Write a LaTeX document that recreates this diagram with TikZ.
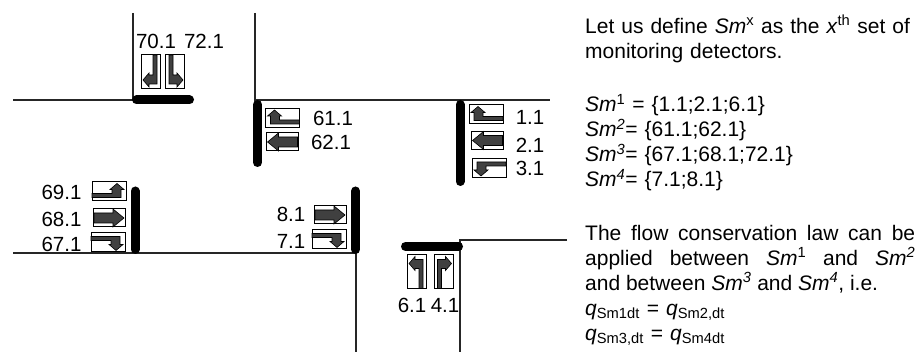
\documentclass[tikz,border=0pt]{standalone}
\usepackage{fontspec}
\setmainfont{Liberation Sans}
\tikzset{
  road/.style={draw=black!85,line width=1.2pt},
  stopbar/.style={line width=9pt,line cap=round},
  numlabel/.style={inner sep=0pt,font=\fontsize{20.5}{24}\selectfont},
  textblock/.style={anchor=north west,inner sep=0pt,text width=330pt,font=\fontsize{21}{25}\selectfont},
  detbox/.style={draw,line width=1pt,fill=white},
  detfill/.style={draw,line width=0.6pt,fill=black!75},
  pics/detstraight/.style={code={
    \draw[detbox] (-16,-9) rectangle (16,9);
    \draw[detfill] (-15,-5) -- (4,-5) -- (4,-9) -- (15,0) -- (4,9) -- (4,5) -- (-15,5) -- cycle;
  }},
  pics/detturn/.style={code={
    \draw[detbox] (-17,-9.5) rectangle (17,9.5);
    \draw[detfill] (-17,2) -- (3,2) -- (3,-2) -- (1,-2) -- (8,-8) -- (15,-2) -- (12,-2) -- (12,6) -- (-17,6) -- cycle;
  }}
}
\begin{document}
\begin{tikzpicture}[x=1pt,y=-1pt]
  \useasboundingbox (0,0) rectangle (916,352);
  % roads
  \draw[road] (133,13) -- (133,100) -- (13,100);
  \draw[road] (255,13) -- (255,100) -- (550,100);
  \draw[road] (13,253) -- (356,253) -- (356,352);
  \draw[road] (567,240) -- (460,240) -- (460,352);
  % stop bars
  \draw[stopbar] (136.5,100) -- (189.5,100);
  \draw[stopbar] (257.5,104.5) -- (257.5,162.5);
  \draw[stopbar] (460,104.5) -- (460,181.5);
  \draw[stopbar] (135,191) -- (135,249.5);
  \draw[stopbar] (355.5,191) -- (355.5,249.5);
  \draw[stopbar] (405.5,246.5) -- (458.5,246.5);
  % detectors
  \pic[rotate=-90,yscale=-1] at (151,72) {detturn};
  \pic[rotate=-90] at (175,72) {detturn};
  \pic[xscale=-1] at (282.5,118) {detturn};
  \pic[xscale=-1] at (282.5,142) {detstraight};
  \pic[xscale=-1] at (486,114.5) {detturn};
  \pic[xscale=-1] at (487.5,140.5) {detstraight};
  \pic[xscale=-1,yscale=-1] at (489,168) {detturn};
  \pic at (109,191.5) {detturn};
  \pic at (109,218) {detstraight};
  \pic[yscale=-1] at (108,242.5) {detturn};
  \pic at (330,215) {detstraight};
  \pic[yscale=-1] at (329,239.5) {detturn};
  \pic[rotate=90] at (417,271.5) {detturn};
  \pic[rotate=90,yscale=-1] at (443.5,271.5) {detturn};
  % detector labels
  \node[numlabel] (l70) at (156,41) {70.1};
  \node[numlabel] (l72) at (204,41) {72.1};
  \node[numlabel] (l61) at (333,118) {61.1};
  \node[numlabel] (l62) at (331,142) {62.1};
  \node[numlabel] (l1) at (530,117) {1.1};
  \node[numlabel] (l2) at (530,145) {2.1};
  \node[numlabel] (l3) at (530,168) {3.1};
  \node[numlabel] (l69) at (61.5,192) {69.1};
  \node[numlabel] (l68) at (61.5,219) {68.1};
  \node[numlabel] (l67) at (61.5,244) {67.1};
  \node[numlabel] (l8) at (291,214) {8.1};
  \node[numlabel] (l7) at (291,241) {7.1};
  \node[numlabel] (l6) at (412,305) {6.1};
  \node[numlabel] (l4) at (445,305) {4.1};
  % text on the right
  \node[textblock] (intro) at (585,15) {Let us define \textit{Sm}\textsuperscript{x} as the \textit{x}\textsuperscript{th} set of\\monitoring detectors.};
  \node[textblock] (sets) at (585,94) {\textit{Sm}\textsuperscript{1} = \{1.1;2.1;6.1\}\\
    \textit{Sm}\textsuperscript{\textit{2}}= \{61.1;62.1\}\\
    \textit{Sm}\textsuperscript{\textit{3}}= \{67.1;68.1;72.1\}\\
    \textit{Sm}\textsuperscript{\textit{4}}= \{7.1;8.1\}};
  \node[textblock,align=justify] (flow) at (585,225) {The flow conservation law can be\linebreak
    applied between \textit{Sm}\textsuperscript{1} and \textit{Sm}\textsuperscript{\textit{2}}\linebreak
    and between \textit{Sm}\textsuperscript{\textit{3}} and \textit{Sm}\textsuperscript{\textit{4}}, i.e.};
  \node[textblock] (eqs) at (585,304) {\textit{q}\textsubscript{Sm1dt} = \textit{q}\textsubscript{Sm2,dt}\\
    \textit{q}\textsubscript{Sm3,dt} = \textit{q}\textsubscript{Sm4dt}};
\end{tikzpicture}
\end{document}
